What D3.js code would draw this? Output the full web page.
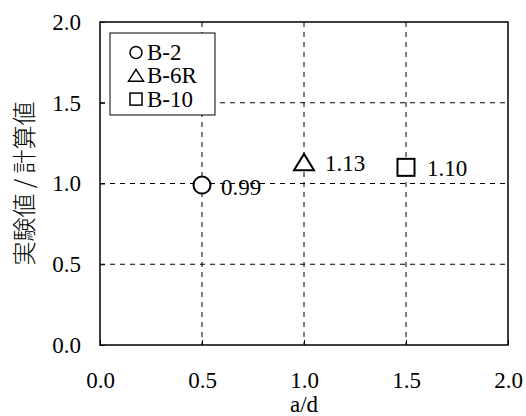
<!DOCTYPE html>
<html>
<head>
<meta charset="utf-8">
<script src="https://cdn.jsdelivr.net/npm/d3@7"></script>
<style>
  body { margin: 0; background: #fff; }
</style>
</head>
<body>
<svg id="chart" width="526" height="416"></svg>
<script>
// data
const specimens = ["B-2", "B-6R", "B-10"];
const aOverD = [0.5, 1.0, 1.5];
const ratio = [0.99, 1.13, 1.10];
const ratioLabels = ["0.99", "1.13", "1.10"];
const symbols = ["circle", "triangle", "square"];
const ticks = [0.0, 0.5, 1.0, 1.5, 2.0];

const FS = 23;
const SERIF = "Liberation Serif";
const svg = d3.select("#chart");
const margin = { top: 22, right: 18, bottom: 71, left: 100 },
      width = 526 - margin.left - margin.right,
      height = 416 - margin.top - margin.bottom;

const g = svg.append("g").attr("transform", `translate(${margin.left},${margin.top})`);

const x = d3.scaleLinear().domain([0, 2]).range([0, width]);
const y = d3.scaleLinear().domain([0, 2]).range([height, 0]);

// dashed grid
const inner = ticks.slice(1, -1);
g.selectAll(".vgrid").data(inner).enter().append("line")
  .attr("x1", d => x(d)).attr("x2", d => x(d))
  .attr("y1", 0).attr("y2", height)
  .attr("stroke", "#000").attr("stroke-width", 1).attr("stroke-dasharray", "5,5");
g.selectAll(".hgrid").data(inner).enter().append("line")
  .attr("y1", d => y(d)).attr("y2", d => y(d))
  .attr("x1", 0).attr("x2", width)
  .attr("stroke", "#000").attr("stroke-width", 1).attr("stroke-dasharray", "5,5");

// axes, ticks inward
const xAxis = g.append("g").attr("transform", `translate(0,${height})`)
  .call(d3.axisBottom(x).tickValues(ticks).tickSize(-5).tickPadding(27).tickFormat(d3.format(".1f")));
const yAxis = g.append("g")
  .call(d3.axisLeft(y).tickValues(ticks).tickSize(-5).tickPadding(19).tickFormat(d3.format(".1f")));
[xAxis, yAxis].forEach(a => {
  a.attr("font-family", SERIF).attr("font-size", FS);
  a.select(".domain").remove();
  a.selectAll("line").attr("stroke", "#000");
  a.selectAll("text").attr("font-family", SERIF).attr("fill", "#000");
});

// frame
g.append("rect").attr("width", width).attr("height", height)
  .attr("fill", "none").attr("stroke", "#000").attr("stroke-width", 1.5);

// axis titles
svg.append("text").attr("x", margin.left + width / 2).attr("y", 412)
  .attr("text-anchor", "middle").attr("font-size", FS).attr("font-family", SERIF).text("a/d");
svg.append("text")
  .attr("transform", `translate(33,${margin.top + height / 2}) rotate(-90)`)
  .attr("text-anchor", "middle").attr("font-size", 24)
  .attr("font-family", "Noto Sans CJK JP").attr("font-weight", 300).attr("fill", "#000")
  .text("実験値 / 計算値");

// marker shapes
function marker(sel, kind, s) {
  if (kind === "circle") return sel.append("circle").attr("r", s / 2);
  if (kind === "square") return sel.append("rect").attr("x", -s / 2).attr("y", -s / 2).attr("width", s).attr("height", s);
  const h = s * 0.9;
  return sel.append("path").attr("d", `M0,${-h / 2 - 1}L${s / 2 + 1.5},${h / 2}L${-s / 2 - 1.5},${h / 2}Z`);
}

// points
aOverD.forEach((d, i) => {
  const p = g.append("g").attr("transform", `translate(${x(d)},${y(ratio[i])})`);
  marker(p, symbols[i], 17).attr("fill", "#fff").attr("stroke", "#000").attr("stroke-width", 2);
});

// value labels
const labelDx = [19, 21, 21], labelDy = [10, 8, 9];
g.selectAll(".val").data(ratioLabels).enter().append("text")
  .attr("x", (d, i) => x(aOverD[i]) + labelDx[i])
  .attr("y", (d, i) => y(ratio[i]) + labelDy[i])
  .attr("font-size", FS).attr("font-family", SERIF).text(d => d);

// legend
const lg = svg.append("g").attr("transform", "translate(110,33)");
lg.append("rect").attr("width", 105).attr("height", 82)
  .attr("fill", "#fff").attr("stroke", "#000").attr("stroke-width", 1);
specimens.forEach((s, i) => {
  const row = lg.append("g").attr("transform", `translate(26,${19.5 + i * 23.3})`);
  marker(row, symbols[i], 12).attr("fill", "#fff").attr("stroke", "#000").attr("stroke-width", 1.5);
  row.append("text").attr("x", 11).attr("y", 7.5).attr("font-size", FS)
    .attr("font-family", SERIF).text(s);
});
</script>
</body>
</html>
